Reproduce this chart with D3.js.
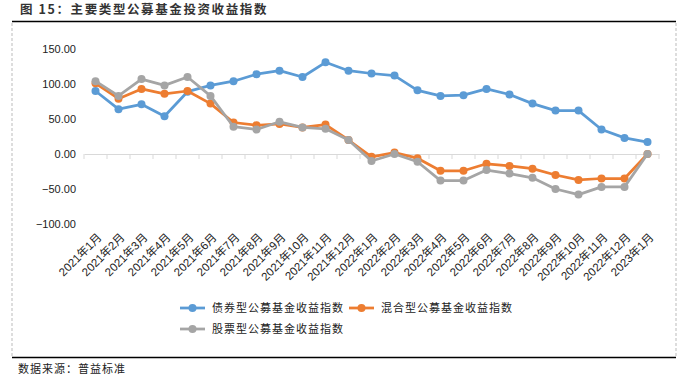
<!DOCTYPE html>
<html>
<head>
<meta charset="utf-8">
<script src="https://cdn.jsdelivr.net/npm/d3@7"></script>
<style>
  body { margin: 0; background: #fff; }
  svg { display: block; font-family: "Noto Sans CJK SC", sans-serif; }
  .ytick { font-family: "Liberation Sans", Arial, sans-serif; font-size: 11px; fill: #222; }
  .xtick { font-family: "Liberation Sans", "Noto Sans CJK SC", sans-serif; font-size: 11.5px; fill: #222; }
  .leg { font-size: 11px; fill: #222; letter-spacing: 1px; }
</style>
</head>
<body>
<div id="chart"></div>
<script>
// Data.
const months = ["2021年1月","2021年2月","2021年3月","2021年4月","2021年5月","2021年6月",
  "2021年7月","2021年8月","2021年9月","2021年10月","2021年11月","2021年12月",
  "2022年1月","2022年2月","2022年3月","2022年4月","2022年5月","2022年6月",
  "2022年7月","2022年8月","2022年9月","2022年10月","2022年11月","2022年12月","2023年1月"];

const bondIndex  = [90, 64, 71, 54, 89, 98, 104, 114, 119, 110, 131, 119, 115, 112, 91, 83, 84, 93, 85, 72, 62, 62, 35, 23, 17];
const mixedIndex = [101, 79, 93, 86, 90, 72, 45, 41, 43, 38, 42, 20, -4, 2, -6, -24, -24, -14, -17, -21, -30, -37, -35, -35, 0];
const stockIndex = [104, 83, 107, 98, 110, 83, 39, 35, 46, 38, 36, 20, -10, 0, -11, -38, -38, -23, -28, -34, -50, -58, -47, -47, 0];

const yTicks = [-100, -50, 0, 50, 100, 150];

const seriesNames = ["债券型公募基金收益指数", "混合型公募基金收益指数", "股票型公募基金收益指数"];
const seriesColors = ["#5B9BD5", "#ED7D31", "#A5A5A5"];

// Page size.
const W = 687, H = 379;
const plot = { left: 84, right: 659, top: 49, bottom: 224 };

const svg = d3.select("#chart").append("svg")
    .attr("width", W)
    .attr("height", H);

// Frame: title rule, dashed sides, bottom rule.
svg.append("text")
    .attr("x", 20).attr("y", 14)
    .style("font-size", "12.5px")
    .style("font-weight", "bold")
    .style("letter-spacing", "1.6px")
    .attr("fill", "#333")
    .text("图 15：主要类型公募基金投资收益指数");
svg.append("line")
    .attr("x1", 12).attr("x2", 676).attr("y1", 21.5).attr("y2", 21.5)
    .attr("stroke", "#000").attr("stroke-width", 1.5);
svg.append("line")
    .attr("x1", 12).attr("x2", 676).attr("y1", 357.5).attr("y2", 357.5)
    .attr("stroke", "#000").attr("stroke-width", 1.5);
[12, 676].forEach(x => {
  svg.append("line")
      .attr("x1", x).attr("x2", x).attr("y1", 23).attr("y2", 357)
      .attr("stroke", "#bbb").attr("stroke-dasharray", "3,2");
});
svg.append("text")
    .attr("x", 18).attr("y", 373)
    .attr("class", "leg")
    .text("数据来源：普益标准");

// Scales
let x = d3.scaleBand()
    .domain(months)
    .range([plot.left, plot.right]);

let y = d3.scaleLinear()
    .domain([-100, 150])
    .range([plot.bottom, plot.top]);

// y labels
svg.append("g")
  .selectAll("text")
  .data(yTicks)
  .join("text")
    .attr("class", "ytick")
    .attr("x", 76)
    .attr("y", d => y(d))
    .attr("dy", "0.35em")
    .attr("text-anchor", "end")
    .text(d => d3.format(".2f")(d));

// x axis at zero, with ticks between categories
const xAxis = d3.axisBottom(x)
    .tickSizeInner(0).tickSizeOuter(0).tickFormat("");
const axisG = svg.append("g")
    .attr("transform", "translate(0," + y(0) + ")")
    .call(xAxis);
axisG.select(".domain").attr("stroke", "#d9d9d9").attr("stroke-width", 1);
axisG.selectAll(".tick").remove();
axisG.selectAll("line.sep")
  .data(months.concat(["end"]))
  .join("line")
    .attr("class", "sep")
    .attr("x1", (d, i) => plot.left + i * x.step())
    .attr("x2", (d, i) => plot.left + i * x.step())
    .attr("y1", 0).attr("y2", 5)
    .attr("stroke", "#d9d9d9");

// category labels at bottom of plot, rotated
svg.append("g")
  .selectAll("text")
  .data(months)
  .join("text")
    .attr("class", "xtick")
    .attr("text-anchor", "end")
    .attr("transform", d => "translate(" + (x(d) + x.bandwidth() / 2 + 7) + "," + (plot.bottom + 14) + ") rotate(-45)")
    .text(d => d);

// Lines
const allSeries = [bondIndex, mixedIndex, stockIndex];
const line = d3.line()
    .x((d, i) => x(months[i]) + x.bandwidth() / 2)
    .y(d => y(d));

allSeries.forEach((vals, k) => {
  const g = svg.append("g");
  g.append("path")
      .datum(vals)
      .attr("fill", "none")
      .attr("stroke", seriesColors[k])
      .attr("stroke-width", 2.75)
      .attr("stroke-linejoin", "round")
      .attr("d", line);
  g.selectAll("circle")
    .data(vals)
    .join("circle")
      .attr("cx", (d, i) => x(months[i]) + x.bandwidth() / 2)
      .attr("cy", d => y(d))
      .attr("r", 4)
      .attr("fill", seriesColors[k]);
});

// Legend
const legPos = [[180, 308], [349, 308], [180, 329]];
seriesNames.forEach((name, k) => {
  const g = svg.append("g")
      .attr("transform", "translate(" + legPos[k][0] + "," + legPos[k][1] + ")");
  g.append("line")
      .attr("x1", 0).attr("x2", 25).attr("y1", 0).attr("y2", 0)
      .attr("stroke", seriesColors[k]).attr("stroke-width", 2.75);
  g.append("circle")
      .attr("cx", 12.5).attr("cy", 0).attr("r", 4)
      .attr("fill", seriesColors[k]);
  g.append("text")
      .attr("class", "leg")
      .attr("x", 32).attr("y", 0).attr("dy", "0.35em")
      .text(name);
});
</script>
</body>
</html>
